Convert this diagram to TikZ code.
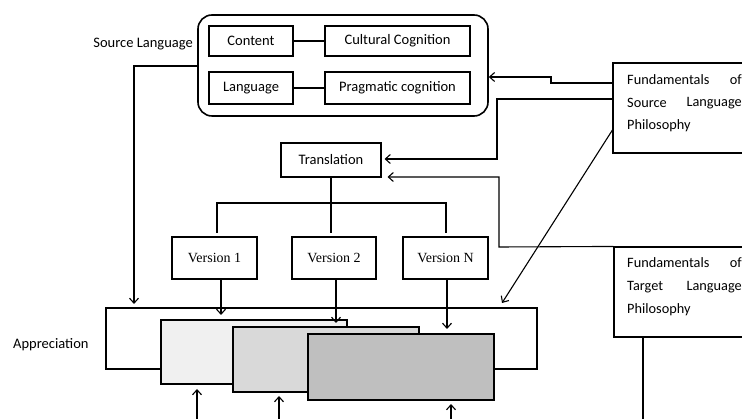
\documentclass[tikz,border=0pt]{standalone}
\usepackage{fontspec}
\setmainfont{Carlito}
\newfontfamily\timesfont{Liberation Serif}
\usetikzlibrary{arrows.meta}
\begin{document}
\begin{tikzpicture}[x=1pt,y=-1pt,
  font=\fontsize{14.5}{17}\selectfont,
  box/.style={draw, line width=1.1pt, inner sep=0pt},
  vbox/.style={box, minimum width=85, minimum height=42, font=\timesfont\fontsize{14}{16}\selectfont},
  page/.style={draw, line width=1.1pt, inner sep=0pt, minimum width=186},
  word/.style={inner sep=0pt, font=\fontsize{14.3}{16}\selectfont},
  link/.style={line width=1.1pt},
  arr/.style={line width=1.1pt, -{Straight Barb[length=5pt,width=9pt]}}]
\useasboundingbox (0,0) rectangle (742,419);

% source language group
\node[draw, line width=1.6pt, rounded corners=14pt, minimum width=290, minimum height=101] (src) at (343,65.5) {};
\node[box, minimum width=84, minimum height=30] (content) at (251,41) {Content};
\node[box, minimum width=145, minimum height=30] (cultural) at (397.5,41) {Cultural Cognition};
\node[box, minimum width=84, minimum height=32] (language) at (251,88) {Language};
\node[box, minimum width=145, minimum height=32] (pragmatic) at (397.5,88) {Pragmatic cognition};
\draw[link] (content) -- (cultural);
\draw[link] (language) -- (pragmatic);
\node[anchor=east, inner sep=0pt] (srclabel) at (193,44) {Source Language};

% philosophy boxes on the right
\node[box, minimum width=167, minimum height=90] (fsl) at (696.5,108) {};
\node[word, anchor=west] (fslA) at (627,80) {Fundamentals};
\node[word, anchor=east] (fslB) at (742,80) {of};
\node[word, anchor=west] (fslC) at (627,103) {Source};
\node[word, anchor=east] (fslD) at (742,103) {Language};
\node[word, anchor=west] (fslE) at (627,126) {Philosophy};

\node[box, minimum width=166, minimum height=90] (ftl) at (697,292) {};
\node[word, anchor=west] (ftlA) at (627,263) {Fundamentals};
\node[word, anchor=east] (ftlB) at (742,263) {of};
\node[word, anchor=west] (ftlC) at (627,287) {Target};
\node[word, anchor=east] (ftlD) at (742,287) {Language};
\node[word, anchor=west] (ftlE) at (627,310) {Philosophy};

% translation and its versions
\node[box, minimum width=100, minimum height=34] (translation) at (331,160) {Translation};
\node[vbox] (v1) at (214.5,258) {Version 1};
\node[vbox, minimum width=84] (v2) at (334,258) {Version 2};
\node[vbox] (vN) at (445.5,258) {Version N};

\coordinate (barL) at (217,203);
\coordinate (barR) at (446,203);
\coordinate (barM) at (331,233);
\draw[link] (translation.south) -- (barM);
\draw[link] (barL |- 0,233) -- (barL) -- (barR) -- (barR |- 0,233);

% appreciation stack
\node[draw, line width=1.1pt, fill=white, minimum width=431, minimum height=61, inner sep=0pt] (app) at (321.5,338.5) {};
\node[anchor=west, inner sep=0pt] (applabel) at (13,345) {Appreciation};
\node[page, fill={rgb,255:red,240;green,240;blue,240}, minimum height=64] (p1) at (254,352) {};
\node[page, fill={rgb,255:red,217;green,217;blue,217}, minimum height=65] (p2) at (326,359.5) {};
\node[page, fill={rgb,255:red,191;green,191;blue,191}, minimum height=66] (p3) at (401,367) {};

% connectors from the source language group
\coordinate (srcTurn) at (134,66);
\coordinate (appIn) at (134,304);
\draw[arr] (src.west |- srcTurn) -- (srcTurn) -- (appIn);

% connectors from source language philosophy
\coordinate (s1) at (551,83);
\coordinate (s2) at (551,77);
\draw[arr] (fsl.west |- s1) -- (s1) -- (s2) -- (src.east |- s2);
\coordinate (t1) at (497,99);
\coordinate (t2) at (497,159);
\draw[arr] (fsl.west |- t1) -- (t1) -- (t2) -- ([xshift=3pt]translation.east |- t2);
\coordinate (diagEnd) at (502,303);
\draw[arr] (fsl.west |- 0,130) -- (diagEnd);

% connector from target language philosophy
\coordinate (u1) at (499,247);
\coordinate (u2) at (499,177);
\draw[arr] (ftl.north west) -- (u1) -- (u2) -- ([xshift=6pt]translation.east |- u2);
\coordinate (ftlDown) at (643,425);
\draw[link] (ftl.south -| ftlDown) -- (ftlDown);

% versions into the stack
\coordinate (a1) at (221,315);
\coordinate (a2) at (336,323);
\coordinate (a3) at (447,329);
\draw[arr] (v1.south -| a1) -- (a1);
\draw[arr] (v2.south -| a2) -- (a2);
\draw[arr] (vN.south -| a3) -- (a3);

% arrows rising from below
\coordinate (b1) at (197,389);
\coordinate (b2) at (279,396);
\coordinate (b3) at (451,404);
\draw[arr] (197,425) -- (b1);
\draw[arr] (279,425) -- (b2);
\draw[arr] (451,425) -- (b3);
\end{tikzpicture}
\end{document}
